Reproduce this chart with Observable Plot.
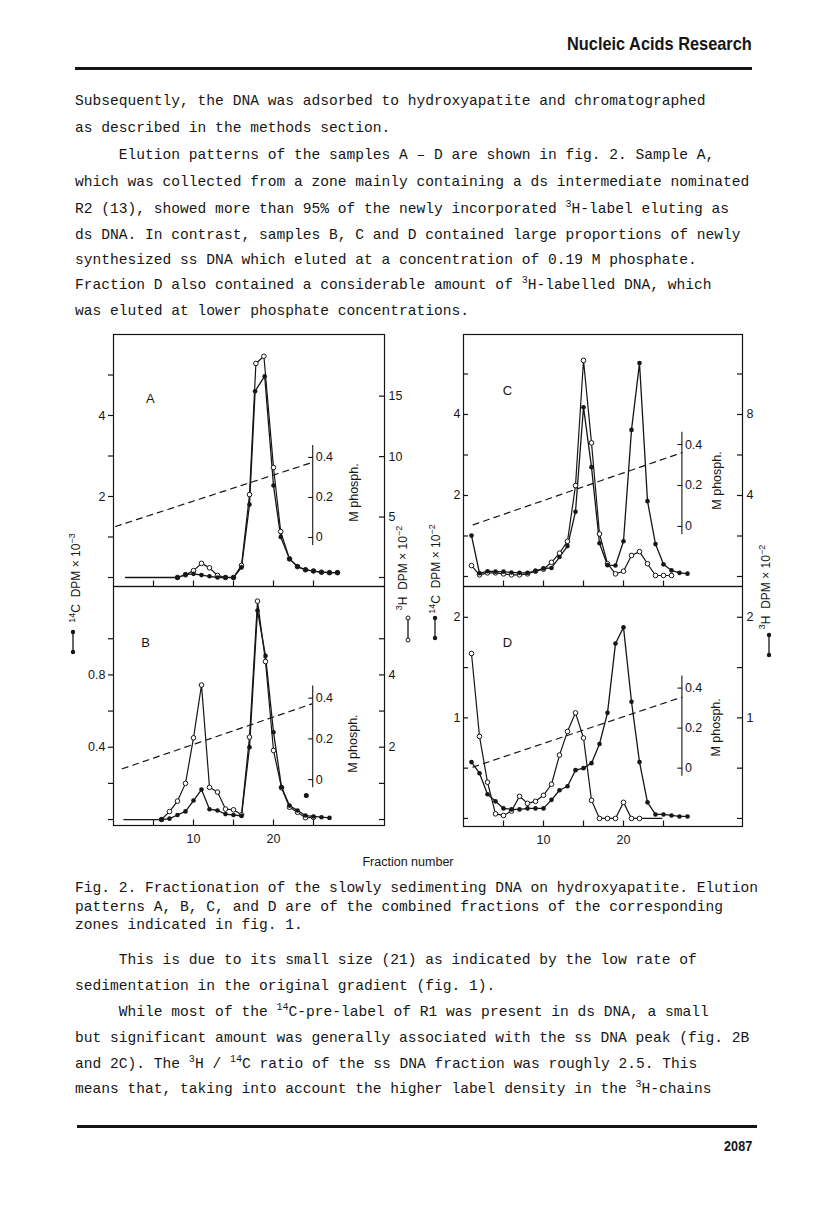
<!DOCTYPE html>
<html><head><meta charset="utf-8">
<script src="https://cdn.jsdelivr.net/npm/d3@7"></script>
<script src="https://cdn.jsdelivr.net/npm/@observablehq/plot@0.6"></script>
<style>
body{margin:0;background:#fff;}
#page{position:relative;width:816px;height:1215px;overflow:hidden;color:#161616;}
.tw{position:absolute;left:75px;font-family:"Liberation Mono","DejaVu Sans Mono",monospace;font-size:14.6px;white-space:pre;line-height:16px;}
.sup{font-size:10px;position:relative;top:-6px;}
.rot{position:absolute;transform:translate(-50%,-50%) rotate(-90deg);white-space:nowrap;font-family:"Liberation Sans",Arial,sans-serif;font-size:12px;line-height:14px;}
.rot sup{font-size:9px;}
.panel{position:absolute;}
.hdr{position:absolute;font-family:"Liberation Sans",Arial,sans-serif;font-weight:bold;white-space:nowrap;transform-origin:right center;}
.rule{position:absolute;background:#161616;}
.sym{position:absolute;}
</style></head>
<body><div id="page">
<div class="hdr" style="right:64px;top:33px;font-size:19px;transform:scaleX(0.86);">Nucleic Acids Research</div>
<div class="rule" style="left:75px;top:67px;width:677px;height:3px;"></div>

<div class="tw" style="top:93px">Subsequently, the DNA was adsorbed to hydroxyapatite and chromatographed</div>
<div class="tw" style="top:120px">as described in the methods section.</div>
<div class="tw" style="top:147px">     Elution patterns of the samples A – D are shown in fig. 2. Sample A,</div>
<div class="tw" style="top:174px">which was collected from a zone mainly containing a ds intermediate nominated</div>
<div class="tw" style="top:201px">R2 (13), showed more than 95% of the newly incorporated <span class="sup">3</span>H-label eluting as</div>
<div class="tw" style="top:227px">ds DNA. In contrast, samples B, C and D contained large proportions of newly</div>
<div class="tw" style="top:252px">synthesized ss DNA which eluted at a concentration of 0.19 M phosphate.</div>
<div class="tw" style="top:277px">Fraction D also contained a considerable amount of <span class="sup">3</span>H-labelled DNA, which</div>
<div class="tw" style="top:303px">was eluted at lower phosphate concentrations.</div>

<div id="figs"></div>

<div class="rot" style="left:74px;top:578px;"><sup>14</sup>C&nbsp; DPM × 10<sup>−3</sup></div>
<div class="rot" style="left:401px;top:568px;"><sup>3</sup>H&nbsp; DPM × 10<sup>−2</sup></div>
<div class="rot" style="left:434px;top:569px;"><sup>14</sup>C&nbsp; DPM × 10<sup>−2</sup></div>
<div class="rot" style="left:764px;top:587px;"><sup>3</sup>H&nbsp; DPM × 10<sup>−2</sup></div>

<svg class="sym" style="left:68px;top:628px" width="10" height="30"><line x1="5" y1="4" x2="5" y2="24" stroke="#161616" stroke-width="1.3"/><circle cx="5" cy="4" r="2.2" fill="#161616"/><circle cx="5" cy="24" r="2.2" fill="#161616"/></svg>
<svg class="sym" style="left:403px;top:614px" width="10" height="30"><line x1="5" y1="4" x2="5" y2="26" stroke="#161616" stroke-width="1.3"/><circle cx="5" cy="4" r="2" fill="#fff" stroke="#161616"/><circle cx="5" cy="26" r="2" fill="#fff" stroke="#161616"/></svg>
<svg class="sym" style="left:430px;top:614px" width="10" height="30"><line x1="5" y1="4" x2="5" y2="24" stroke="#161616" stroke-width="1.3"/><circle cx="5" cy="4" r="2.2" fill="#161616"/><circle cx="5" cy="24" r="2.2" fill="#161616"/></svg>
<svg class="sym" style="left:764px;top:631px" width="10" height="30"><line x1="5" y1="4" x2="5" y2="24" stroke="#161616" stroke-width="1.3"/><circle cx="5" cy="4" r="2.2" fill="#161616"/><circle cx="5" cy="24" r="2.2" fill="#161616"/></svg>

<div style="position:absolute;left:0;width:816px;top:855px;text-align:center;font-family:'Liberation Sans',Arial,sans-serif;font-size:12.5px;">Fraction number</div>

<div class="tw" style="top:880px">Fig. 2. Fractionation of the slowly sedimenting DNA on hydroxyapatite. Elution</div>
<div class="tw" style="top:899px">patterns A, B, C, and D are of the combined fractions of the corresponding</div>
<div class="tw" style="top:917px">zones indicated in fig. 1.</div>

<div class="tw" style="top:952px">     This is due to its small size (21) as indicated by the low rate of</div>
<div class="tw" style="top:978px">sedimentation in the original gradient (fig. 1).</div>
<div class="tw" style="top:1004px">     While most of the <span class="sup">14</span>C-pre-label of R1 was present in ds DNA, a small</div>
<div class="tw" style="top:1030px">but significant amount was generally associated with the ss DNA peak (fig. 2B</div>
<div class="tw" style="top:1056px">and 2C). The <span class="sup">3</span>H / <span class="sup">14</span>C ratio of the ss DNA fraction was roughly 2.5. This</div>
<div class="tw" style="top:1081px">means that, taking into account the higher label density in the <span class="sup">3</span>H-chains</div>

<div class="rule" style="left:77px;top:1125px;width:680px;height:3px;"></div>
<div class="hdr" style="right:64px;top:1138px;font-size:14px;transform:scaleX(0.9);">2087</div>
</div>

<script>
// ---------- DATA (fraction numbers, 14C in left-axis units, 3H in right-axis units, M phosphate) ----------
// Panel A
const A_14C_frac = [8, 9, 10, 11, 12, 13, 14, 15, 16, 17, 17.7, 18.9, 20, 20.9, 22, 23, 24, 25, 26, 27, 28];
const A_14C      = [0, 0.07, 0.09, 0.06, 0.03, 0, 0, 0, 0.25, 1.8, 4.6, 4.97, 2.27, 1.0, 0.46, 0.27, 0.19, 0.16, 0.13, 0.12, 0.12];
const A_3H_frac  = [8, 9, 10, 11, 12, 13, 14, 15, 16, 17, 17.8, 18.8, 20, 20.9, 22, 23, 24, 25, 26, 27, 28];
const A_3H       = [0, 0.23, 0.57, 1.17, 0.8, 0.17, 0, 0, 1.0, 6.86, 17.7, 18.3, 9.1, 3.8, 1.54, 0.9, 0.64, 0.54, 0.44, 0.4, 0.4];
const A_lead     = [1.5, 8];
const A_phos_frac = [0.25, 24.9];
const A_phos_M    = [0.055, 0.376];

// Panel B
const B_14C_frac = [6, 7, 8, 9, 10, 11, 12, 13, 14, 15, 16, 17, 18, 19, 20, 21, 22, 23, 24, 25, 26, 27];
const B_14C      = [0, 0.005, 0.025, 0.045, 0.105, 0.166, 0.057, 0.05, 0.03, 0.025, 0.02, 0.40, 1.156, 0.905, 0.483, 0.179, 0.077, 0.05, 0.022, 0.017, 0.013, 0.009];
const B_3H_frac  = [6, 7, 8, 9, 10, 11, 12, 13, 14, 15, 16, 17, 18, 19, 20, 21, 22, 23, 24, 25];
const B_3H       = [0, 0.22, 0.51, 1.0, 2.26, 3.72, 0.89, 0.76, 0.29, 0.27, 0.13, 2.28, 6.04, 4.37, 1.91, 0.88, 0.34, 0.2, 0.05, 0.06];
const B_lead     = [1.3, 6];
const B_stray_frac = [24.1];
const B_stray      = [0.133];
const B_phos_frac = [1.1, 24.8];
const B_phos_M    = [0.053, 0.372];

// Panel C
const C_14C_frac = [1, 2, 3, 4, 5, 6, 7, 8, 9, 10, 11, 12, 13, 14, 15, 16, 17, 18, 19, 20, 21, 22, 23, 24, 25, 26, 27, 28];
const C_14C      = [1.01, 0.08, 0.13, 0.12, 0.12, 0.1, 0.09, 0.09, 0.14, 0.2, 0.21, 0.48, 0.75, 1.6, 4.18, 2.7, 0.82, 0.28, 0.27, 0.87, 3.62, 5.27, 1.86, 0.8, 0.3, 0.15, 0.09, 0.07];
const C_3H_frac  = [1, 2, 3, 4, 5, 6, 7, 8, 9, 10, 11, 12, 13, 14, 15, 16, 17, 18, 19, 20, 21, 22, 23, 24, 25, 26];
const C_3H       = [0.54, 0.08, 0.18, 0.18, 0.13, 0.08, 0.08, 0.13, 0.26, 0.36, 0.7, 1.15, 1.74, 4.49, 10.67, 6.6, 2.1, 0.63, 0.13, 0.26, 1.04, 1.23, 0.63, 0.05, 0.05, 0.05];
const C_phos_frac = [1.2, 27.3];
const C_phos_M    = [0.008, 0.36];

// Panel D
const D_14C_frac = [1, 2, 3, 4, 5, 6, 7, 8, 9, 10, 11, 12, 13, 14, 15, 16, 17, 18, 19, 20, 21, 22, 23, 24, 25, 26, 27, 28];
const D_14C      = [0.56, 0.45, 0.24, 0.17, 0.1, 0.09, 0.09, 0.1, 0.1, 0.1, 0.185, 0.28, 0.32, 0.48, 0.5, 0.55, 0.74, 1.05, 1.74, 1.9, 1.16, 0.56, 0.16, 0.04, 0.04, 0.03, 0.02, 0.02];
const D_3H_frac  = [1, 2, 3, 4, 5, 6, 7, 8, 9, 10, 11, 12, 13, 14, 15, 16, 17, 18, 19, 20, 21, 22];
const D_3H       = [1.64, 0.815, 0.36, 0.046, 0.03, 0.073, 0.22, 0.15, 0.17, 0.23, 0.34, 0.63, 0.865, 1.05, 0.8, 0.18, 0, 0, 0, 0.16, 0, 0];
const D_tail     = [22, 24.8];
const D_phos_frac = [1.17, 27.3];
const D_phos_M    = [0.005, 0.355];

// Axis ticks
const A_leftTicks = [0, 1, 2, 3, 4, 5], A_leftLabels = [2, 4], A_rightTicks = [0, 5, 10, 15], A_rightLabels = [5, 10, 15];
const B_leftTicks = [0, 0.2, 0.4, 0.6, 0.8, 1.0], B_leftLabels = [0.4, 0.8], B_rightTicks = [0, 1, 2, 3, 4, 5], B_rightLabels = [2, 4];
const C_leftTicks = [0, 1, 2, 3, 4, 5], C_leftLabels = [2, 4], C_rightTicks = [0, 2, 4, 6, 8, 10], C_rightLabels = [4, 8];
const D_leftTicks = [0, 0.5, 1, 1.5, 2], D_leftLabels = [1, 2], D_rightTicks = [0, 0.5, 1, 1.5, 2], D_rightLabels = [1, 2];
const xTicks = [5, 10, 15, 20, 25], xLabels = [10, 20];
const phosTicks = [0, 0.2, 0.4];

// ---------- drawing ----------
const ink = "#161616";
const zip = (fs, vs) => fs.map((f, i) => ({f, v: vs[i]}));
const fmt = v => String(Math.round(v * 100) / 100);

function panel(cfg) {
  const {L, R, T, B} = cfg.frame;
  const ml = 40, mr = 40, mt = 4, mb = cfg.xLab ? 26 : 4;
  const width = (R - L) + ml + mr, height = (B - T) + mt + mb;
  const [y0, y1] = cfg.yDomain;
  const xmax = cfg.xDomain[1];
  const k = cfg.k;
  const pxY = (B - T) / (y1 - y0);
  const pxX = (R - L) / (xmax - cfg.xDomain[0]);
  const tx = 5 / pxX, ty = 5 / pxY;
  const ph = p => cfg.ph.zero + p * cfg.ph.per;
  const c14 = zip(cfg.c14f, cfg.c14);
  const h3 = zip(cfg.h3f, cfg.h3);
  const phos = zip(cfg.phf, cfg.phM);
  const marks = [
    Plot.frame({stroke: ink, strokeWidth: 1.2}),
    Plot.ruleY(cfg.lt, {y: d => d, x1: () => cfg.leftOut ? -tx : 0, x2: () => cfg.leftOut ? 0 : tx, stroke: ink, strokeWidth: 1.2}),
    Plot.axisY(cfg.ll, {anchor: "left", tickSize: 0, tickPadding: cfg.leftOut ? 8 : 3, tickFormat: fmt, label: null, fontSize: 12.5}),
    Plot.ruleY(cfg.rt.map(r => r * k), {y: d => d, x1: () => xmax - tx, x2: () => xmax, stroke: ink, strokeWidth: 1.2}),
    Plot.axisY(cfg.rl.map(r => r * k), {anchor: "right", tickSize: 0, tickPadding: 4, tickFormat: v => fmt(v / k), label: null, fontSize: 12.5}),
    Plot.ruleX(xTicks, {x: d => d, y1: () => y0, y2: () => y0 + ty * 1.1, stroke: ink, strokeWidth: 1.2}),
    Plot.ruleX([cfg.ph.x], {x: d => d, y1: () => ph(-0.04), y2: () => ph(0.46), stroke: ink, strokeWidth: 1.1}),
    Plot.ruleY(phosTicks, {y: p => ph(p), x1: () => cfg.ph.x - 0.5, x2: () => cfg.ph.x + 0.1, stroke: ink, strokeWidth: 1.1}),
    Plot.text(phosTicks, {x: () => cfg.ph.x, y: p => ph(p), text: p => fmt(p), textAnchor: "start", dx: 3, fontSize: 12.5}),
    Plot.text(["M phosph."], {x: () => cfg.mlab[0], y: () => cfg.mlab[1], rotate: -90, fontSize: 12.5}),
    Plot.line(phos, {x: "f", y: d => ph(d.v), stroke: ink, strokeWidth: 1.2, strokeDasharray: "6,5"}),
    Plot.text([cfg.name], {x: () => cfg.letter[0], y: () => cfg.letter[1], fontSize: 13}),
    Plot.line(h3, {x: "f", y: d => d.v * k, stroke: ink, strokeWidth: 1.2}),
    Plot.line(c14, {x: "f", y: "v", stroke: ink, strokeWidth: 1.3})
  ];
  if (cfg.lead) marks.push(Plot.line(cfg.lead.map(f => ({f, v: 0})), {x: "f", y: "v", stroke: ink, strokeWidth: 1.3}));
  if (cfg.tail) marks.push(Plot.line(cfg.tail.map(f => ({f, v: 0})), {x: "f", y: d => d.v * k, stroke: ink, strokeWidth: 1.2}));
  marks.push(Plot.dot(h3, {x: "f", y: d => d.v * k, r: 2.3, fill: "white", stroke: ink, strokeWidth: 1}));
  marks.push(Plot.dot(c14, {x: "f", y: "v", r: 2.3, fill: ink, stroke: "none"}));
  if (cfg.stray) marks.push(Plot.dot(zip(cfg.stray[0], cfg.stray[1]), {x: "f", y: "v", r: 2.5, fill: ink, stroke: "none"}));
  if (cfg.xLab) marks.push(Plot.axisX(xLabels, {anchor: "bottom", tickSize: 0, tickPadding: 9, label: null, fontSize: 12.5}));

  const svg = Plot.plot({
    width, height, marginLeft: ml, marginRight: mr, marginTop: mt, marginBottom: mb,
    x: {domain: cfg.xDomain, axis: null},
    y: {domain: cfg.yDomain, axis: null},
    style: {fontFamily: "'Liberation Sans', Arial, sans-serif", fontSize: "12.5px", color: ink, background: "transparent", overflow: "visible"},
    marks
  });
  const div = document.createElement("div");
  div.className = "panel";
  div.style.left = (L - ml) + "px";
  div.style.top = (T - mt) + "px";
  div.appendChild(svg);
  document.getElementById("figs").appendChild(div);
}

panel({name: "A", frame: {L: 113, R: 384, T: 334, B: 586}, xDomain: [0, 33.875], yDomain: [-0.222, 6.0], k: 0.2985,
  c14f: A_14C_frac, c14: A_14C, h3f: A_3H_frac, h3: A_3H, lead: A_lead, phf: A_phos_frac, phM: A_phos_M,
  lt: A_leftTicks, ll: A_leftLabels, rt: A_rightTicks, rl: A_rightLabels, leftOut: true,
  ph: {x: 24.9, zero: 0.988, per: 4.94}, letter: [4.6, 4.42], mlab: [30, 2.1]});
panel({name: "B", frame: {L: 113, R: 384, T: 586, B: 825}, xDomain: [0, 33.875], yDomain: [-0.033, 1.289], k: 0.2,
  c14f: B_14C_frac, c14: B_14C, h3f: B_3H_frac, h3: B_3H, lead: B_lead, stray: [B_stray_frac, B_stray], phf: B_phos_frac, phM: B_phos_M,
  lt: B_leftTicks, ll: B_leftLabels, rt: B_rightTicks, rl: B_rightLabels, leftOut: true, xLab: true,
  ph: {x: 24.9, zero: 0.221, per: 1.126}, letter: [4.0, 0.979], mlab: [29.9, 0.42]});
panel({name: "C", frame: {L: 463, R: 742, T: 334, B: 586}, xDomain: [0, 34.875], yDomain: [-0.247, 5.975], k: 0.5,
  c14f: C_14C_frac, c14: C_14C, h3f: C_3H_frac, h3: C_3H, phf: C_phos_frac, phM: C_phos_M,
  lt: C_leftTicks, ll: C_leftLabels, rt: C_rightTicks, rl: C_rightLabels, leftOut: false,
  ph: {x: 27.3, zero: 1.235, per: 5.06}, letter: [5.5, 4.59], mlab: [31.7, 2.37]});
panel({name: "D", frame: {L: 463, R: 742, T: 586, B: 826}, xDomain: [0, 34.875], yDomain: [-0.08, 2.306], k: 1,
  c14f: D_14C_frac, c14: D_14C, h3f: D_3H_frac, h3: D_3H, tail: D_tail, phf: D_phos_frac, phM: D_phos_M,
  lt: D_leftTicks, ll: D_leftLabels, rt: D_rightTicks, rl: D_rightLabels, leftOut: false, xLab: true,
  ph: {x: 27.3, zero: 0.5, per: 1.99}, letter: [5.5, 1.75], mlab: [31.5, 0.905]});
</script>
</body></html>
